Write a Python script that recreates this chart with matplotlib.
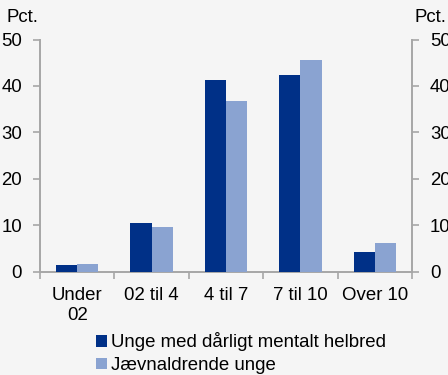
import matplotlib
matplotlib.use("Agg")
import matplotlib.pyplot as plt
import numpy as np

categories = ["Under\n02", "02 til 4", "4 til 7", "7 til 10", "Over 10"]
mental = [1.4, 10.5, 41.3, 42.3, 4.3]
peers = [1.6, 9.5, 36.7, 45.6, 6.1]
series_names = ["Unge med dårligt mentalt helbred", "Jævnaldrende unge"]
yticks = [0, 10, 20, 30, 40, 50]

bg = "#f5f5f5"
dark = "#003087"
light = "#8aa3d1"
axis_grey = "#a6a6a6"

plt.rcParams["font.family"] = ["Liberation Sans", "DejaVu Sans"]
fs = 13.4

fig = plt.figure(figsize=(4.48, 3.75), dpi=100, facecolor=bg)
ax = fig.add_axes([40 / 448, 1 - 271.5 / 375, 372 / 448, 232 / 375])
ax.set_facecolor(bg)

x = np.arange(len(categories))
w = 0.285
ax.bar(x - w / 2, mental, w, color=dark, label=series_names[0], zorder=3)
ax.bar(x + w / 2, peers, w, color=light, label=series_names[1], zorder=3)

ax.set_xlim(-0.5, len(categories) - 0.5)
ax.set_ylim(0, 50)
ax.set_yticks(yticks)
ax.set_yticklabels([str(t) for t in yticks], fontsize=fs)
ax.tick_params(axis="y", which="both", direction="out", length=5, width=1.2,
               color=axis_grey, pad=8, labelright=True, right=True, labelsize=fs)

ax.set_xticks(x)
ax.set_xticklabels(categories, fontsize=fs, linespacing=1.27)
ax.tick_params(axis="x", which="major", length=0, pad=11)
ax.set_xticks(np.arange(-0.5, len(categories), 1.0), minor=True)
ax.tick_params(axis="x", which="minor", direction="out", length=5, width=1.2,
               color=axis_grey)

for side in ["left", "right", "bottom"]:
    ax.spines[side].set_color(axis_grey)
    ax.spines[side].set_linewidth(1.4)
ax.spines["top"].set_visible(False)

fig.text(7 / 448, 1 - 17 / 375, "Pct.", fontsize=fs, ha="left", va="center")
fig.text(414 / 448, 1 - 17 / 375, "Pct.", fontsize=fs, ha="left", va="center")

fig.legend(loc="lower left", bbox_to_anchor=(83 / 448, -12 / 375), frameon=False,
           fontsize=fs, handlelength=0.6, handleheight=0.6, handletextpad=0.2,
           labelspacing=0.3, borderpad=0.2)

fig.savefig("out.png", dpi=100, facecolor=bg)
